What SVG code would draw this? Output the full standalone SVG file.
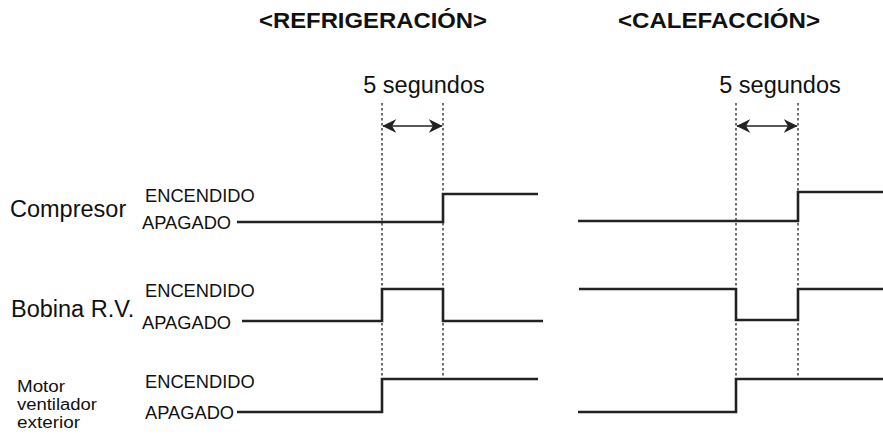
<svg xmlns="http://www.w3.org/2000/svg" width="883" height="441" viewBox="0 0 883 441">
<style>
text{font-family:"Liberation Sans",Arial,sans-serif;fill:#111}
.title{font-size:22px;font-weight:bold}
.big{font-size:23.5px}
.st{font-size:18.3px}
.sm{font-size:16px}
.sig{fill:none;stroke:#222;stroke-width:2.6;stroke-linejoin:miter}
.dot{stroke:#222;stroke-width:1.3;stroke-dasharray:2.5 2.5;fill:none}
.arr{stroke:#222;stroke-width:1.6;fill:none}
</style>
<defs>
<marker id="ah" viewBox="0 0 10 10" refX="9.5" refY="5" markerWidth="14" markerHeight="14" markerUnits="userSpaceOnUse" orient="auto-start-reverse">
<path d="M0,0 L10,5 L0,10 L3,5 Z" fill="#222"/>
</marker>
</defs>
<g id="titles">
<text class="title" x="259" y="28" textLength="228" lengthAdjust="spacingAndGlyphs">&lt;REFRIGERACIÓN&gt;</text>
<text class="title" x="618" y="28" textLength="202" lengthAdjust="spacingAndGlyphs">&lt;CALEFACCIÓN&gt;</text>
</g>
<g id="labels">
<text class="big" x="10" y="217">Compresor</text>
<text class="st" x="145" y="202">ENCENDIDO</text>
<text class="st" x="142" y="229">APAGADO</text>
<text class="big" x="11" y="317">Bobina R.V.</text>
<text class="st" x="145" y="297">ENCENDIDO</text>
<text class="st" x="142" y="329">APAGADO</text>
<text class="sm" x="17" y="392" textLength="48" lengthAdjust="spacingAndGlyphs">Motor</text>
<text class="sm" x="17" y="410" textLength="80" lengthAdjust="spacingAndGlyphs">ventilador</text>
<text class="sm" x="17" y="428" textLength="63" lengthAdjust="spacingAndGlyphs">exterior</text>
<text class="st" x="145" y="388">ENCENDIDO</text>
<text class="st" x="145" y="419">APAGADO</text>
</g>
<g id="connectors">
<line class="dot" x1="382" y1="103" x2="382" y2="380"/>
<line class="dot" x1="443" y1="103" x2="443" y2="380"/>
<line class="dot" x1="736" y1="103" x2="736" y2="380"/>
<line class="dot" x1="798" y1="103" x2="798" y2="380"/>
<line class="arr" x1="383" y1="126" x2="442" y2="126" marker-start="url(#ah)" marker-end="url(#ah)"/>
<line class="arr" x1="737" y1="126" x2="797" y2="126" marker-start="url(#ah)" marker-end="url(#ah)"/>
</g>
<g id="timing-cooling">
<text class="big" x="424" y="93" text-anchor="middle">5 segundos</text>
<polyline class="sig" points="237,222 443,222 443,194 538,194"/>
<polyline class="sig" points="242,321 382,321 382,289 443,289 443,321 543,321"/>
<polyline class="sig" points="237,412 382,412 382,379 538,379"/>
</g>
<g id="timing-heating">
<text class="big" x="780" y="93" text-anchor="middle">5 segundos</text>
<polyline class="sig" points="578,221 798,221 798,192 883,192"/>
<polyline class="sig" points="579,289 736,289 736,320 798,320 798,289 883,289"/>
<polyline class="sig" points="578,412 736,412 736,379 883,379"/>
</g>
</svg>
